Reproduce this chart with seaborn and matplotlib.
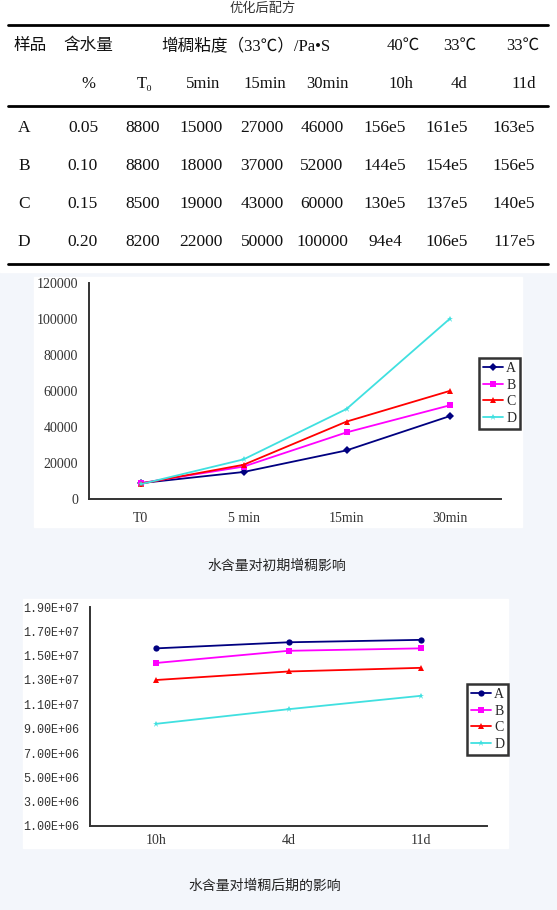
import matplotlib
matplotlib.use("Agg")
import matplotlib.pyplot as plt
from matplotlib.patches import Rectangle
from matplotlib.ticker import FuncFormatter
import numpy as np
import pandas as pd
import seaborn as sns

# ---- data -------------------------------------------------------------
samples = ["A", "B", "C", "D"]
water = ["0.05", "0.10", "0.15", "0.20"]

early_labels = ["T0", "5 min", "15min", "30min"]
early_A = [8800, 15000, 27000, 46000]
early_B = [8800, 18000, 37000, 52000]
early_C = [8500, 19000, 43000, 60000]
early_D = [8200, 22000, 50000, 100000]

late_labels = ["10h", "4d", "11d"]
late_A = [1.56e7, 1.61e7, 1.63e7]
late_B = [1.44e7, 1.54e7, 1.56e7]
late_C = [1.30e7, 1.37e7, 1.40e7]
late_D = [9.4e6, 1.06e7, 1.17e7]
late_text = [["156e5", "161e5", "163e5"],
             ["144e5", "154e5", "156e5"],
             ["130e5", "137e5", "140e5"],
             ["94e4", "106e5", "117e5"]]

head1 = ["样品", "含水量", "增稠粘度（33℃）/Pa•S", "40℃", "33℃", "33℃"]
head2 = ["%", "T₀", "5min", "15min", "30min", "10h", "4d", "11d"]

colors = ["#000080", "#ff00ff", "#ff0000", "#40e0e0"]

sns.set_style("white")
plt.rcParams["font.family"] = ["Liberation Serif", "Noto Sans CJK SC", "DejaVu Sans"]

W, H = 557, 910
fig = plt.figure(figsize=(W / 100, H / 100), dpi=100, facecolor="#f3f6fb")


def box(x0, y0, x1, y1):
    return [x0 / W, 1 - y1 / H, (x1 - x0) / W, (y1 - y0) / H]


# background + table drawn in pixel coords
bg = fig.add_axes([0, 0, 1, 1], zorder=0)
bg.set_xlim(0, W)
bg.set_ylim(H, 0)
bg.axis("off")
bg.add_patch(Rectangle((0, 0), W, 272, color="white"))
bg.add_patch(Rectangle((34, 277), 488, 250, color="white"))
bg.add_patch(Rectangle((23, 599), 485, 249, color="white"))

cjk = ["Noto Sans CJK SC", "DejaVu Sans"]
serif = ["Liberation Serif", "Noto Sans CJK SC", "DejaVu Sans"]

bg.text(263, 8, "优化后配方", family=cjk, fontsize=9.5, color="#333333",
        ha="center", va="center")
for y in (25, 106, 264):
    bg.plot([8, 548], [y, y], color="black", lw=2)

h1_x = [30, 88, 246, 403, 460, 523]
for x, t in zip(h1_x, head1):
    bg.text(x, 46, t, family=serif, fontsize=12, ha="center", va="center", color="#111111")
h2_x = [88, 145, 203, 265, 327, 401, 459, 524]
for x, t in zip(h2_x, head2):
    bg.text(x, 84, t, family=serif, fontsize=12, ha="center", va="center", color="#111111")

col_x = [24, 83, 143, 201, 262, 322, 385, 447, 514]
early = [early_A, early_B, early_C, early_D]
for i, s in enumerate(samples):
    y = 128 + i * 38
    cells = [s, water[i]] + [str(v) for v in early[i]] + late_text[i]
    for x, t in zip(col_x, cells):
        bg.text(x, y, t, family=serif, fontsize=12.5, ha="center", va="center", color="#111111")


def style_axes(ax):
    sns.despine(ax=ax)
    for sp in ("left", "bottom"):
        ax.spines[sp].set_color("#333333")
        ax.spines[sp].set_linewidth(1.4)
    ax.set_xlabel("")
    ax.set_ylabel("")
    ax.grid(False)


def add_legend(ax, x, y):
    h, l = ax.get_legend_handles_labels()
    leg = ax.legend(h, l, loc="upper left", bbox_to_anchor=(x / W, 1 - y / H),
                    bbox_transform=fig.transFigure, borderaxespad=0, fancybox=False,
                    edgecolor="#333333", framealpha=1, fontsize=10, handlelength=1.4,
                    handletextpad=0.25, labelspacing=0.25, borderpad=0.3)
    leg.get_frame().set_linewidth(1.8)


# ---- chart 1: early thickening ----------------------------------------
df1 = pd.DataFrame([(s, lab, v) for s, vals in zip(samples, early)
                    for lab, v in zip(early_labels, vals)],
                   columns=["sample", "time", "value"])
ax1 = fig.add_axes(box(89, 283, 501, 499), zorder=2)
sns.lineplot(data=df1, x="time", y="value", hue="sample", style="sample",
             markers=["D", "s", "^", "*"], dashes=False, palette=colors,
             sort=False, linewidth=1.3, markersize=4.5, markeredgewidth=0, ax=ax1)
ax1.set_xlim(-0.5, 3.5)
ax1.set_ylim(0, 120000)
ax1.set_yticks(np.arange(0, 120001, 20000))
style_axes(ax1)
ax1.tick_params(length=0, labelsize=10, colors="#333333")
ax1.tick_params(axis="y", pad=8)
ax1.tick_params(axis="x", pad=9)
add_legend(ax1, 479, 358)
fig.text(277 / W, 1 - 566 / H, "水含量对初期增稠影响", family=cjk, fontsize=10,
         color="#222222", ha="center", va="center")

# ---- chart 2: late thickening -----------------------------------------
late = [late_A, late_B, late_C, late_D]
df2 = pd.DataFrame([(s, lab, v) for s, vals in zip(samples, late)
                    for lab, v in zip(late_labels, vals)],
                   columns=["sample", "time", "value"])
ax2 = fig.add_axes(box(90, 607, 487, 826), zorder=2)
sns.lineplot(data=df2, x="time", y="value", hue="sample", style="sample",
             markers=["o", "s", "^", "*"], dashes=False, palette=colors,
             sort=False, linewidth=1.3, markersize=4.5, markeredgewidth=0, ax=ax2)
ax2.set_xlim(-0.5, 2.5)
ax2.set_ylim(1e6, 1.9e7)
ax2.set_yticks(np.arange(1e6, 1.9e7 + 1, 2e6))
ax2.yaxis.set_major_formatter(FuncFormatter(lambda v, p: f"{v:.2E}"))
style_axes(ax2)
ax2.tick_params(length=0, colors="#333333")
ax2.tick_params(axis="y", pad=8, labelsize=8.5)
ax2.tick_params(axis="x", pad=6, labelsize=10)
for t in ax2.get_yticklabels():
    t.set_family(["Liberation Mono", "DejaVu Sans"])
add_legend(ax2, 467, 684)
fig.text(265 / W, 1 - 886 / H, "水含量对增稠后期的影响", family=cjk, fontsize=10,
         color="#222222", ha="center", va="center")

fig.savefig("out.png", dpi=100, facecolor=fig.get_facecolor())
